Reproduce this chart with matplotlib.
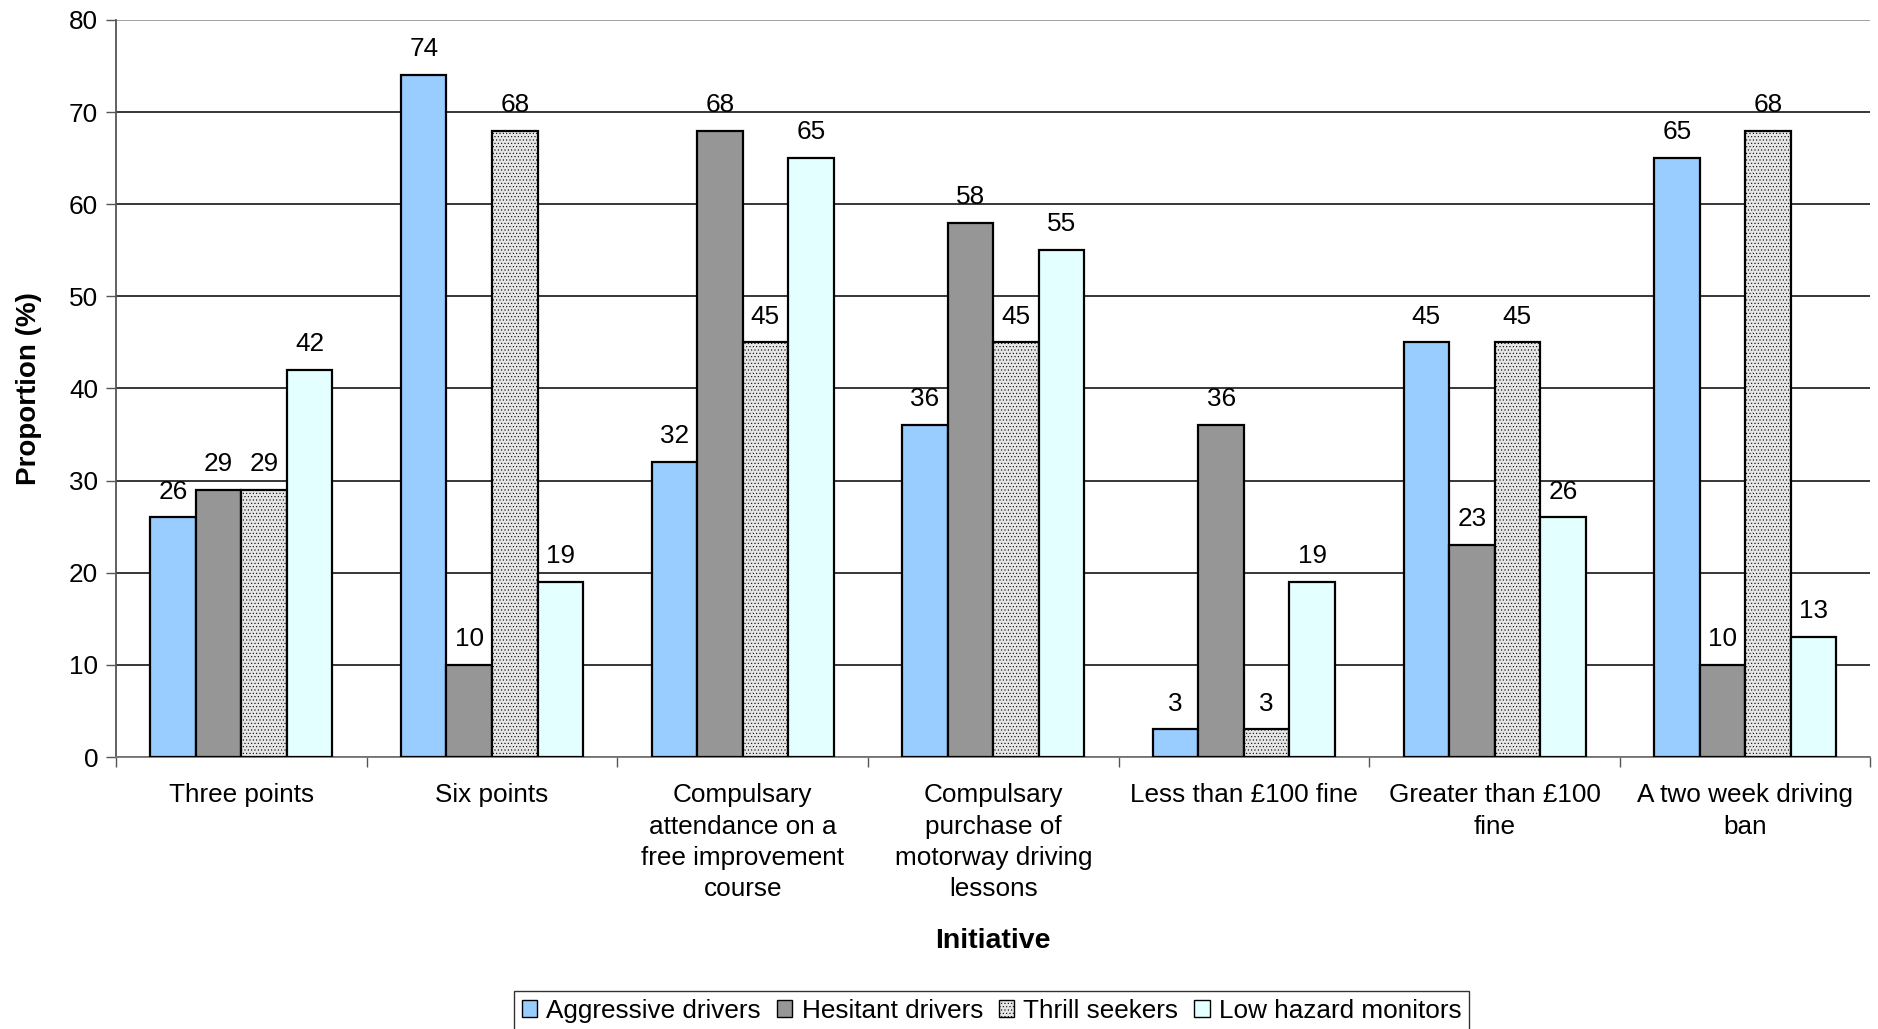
import matplotlib
matplotlib.use("Agg")
import matplotlib.pyplot as plt
import numpy as np

plt.rcParams['font.family'] = ['Liberation Sans', 'DejaVu Sans']
plt.rcParams['hatch.color'] = '#d6d6d6'
plt.rcParams['hatch.linewidth'] = 0.4

# Proportion of each driver group rating each initiative as effective (%)
initiatives = [
    "Three points",
    "Six points",
    "Compulsary\nattendance on a\nfree improvement\ncourse",
    "Compulsary\npurchase of\nmotorway driving\nlessons",
    "Less than £100 fine",
    "Greater than £100\nfine",
    "A two week driving\nban",
]
groups = ["Aggressive drivers", "Hesitant drivers", "Thrill seekers", "Low hazard monitors"]
aggressive = [26, 74, 32, 36, 3, 45, 65]
hesitant = [29, 10, 68, 58, 36, 23, 10]
thrill = [29, 68, 45, 45, 3, 45, 68]
low_hazard = [42, 19, 65, 55, 19, 26, 13]

series = [aggressive, hesitant, thrill, low_hazard]
colors = ['#99CCFF', '#969696', '#E6E6E6', '#E3FFFF']
hatches = [None, None, '.....', None]

FS = 18.8

fig = plt.figure(figsize=(18.78, 10.29), dpi=100)
ax = fig.add_axes([0.0618, 0.2643, 0.9342, 0.7163])

x = np.arange(len(initiatives))
width = 0.1816
offsets = (np.arange(4) - 1.5) * width

for vals, off, col, hat, name in zip(series, offsets, colors, hatches, groups):
    bars = ax.bar(x + off, vals, width, color=col, edgecolor='black',
                  linewidth=1.6, hatch=hat, label=name, zorder=3)
    for b, v in zip(bars, vals):
        ax.annotate(str(v), (b.get_x() + b.get_width() / 2, v),
                    xytext=(0, 10), textcoords='offset points',
                    ha='center', va='bottom', fontsize=FS, zorder=4)

ax.set_xlim(-0.5, len(initiatives) - 0.5)
ax.set_ylim(0, 80)
ax.set_yticks(np.arange(0, 81, 10))
ax.tick_params(axis='y', labelsize=FS, length=7, width=1, color='#555555', pad=6)

ax.set_xticks(x)
ax.set_xticklabels(initiatives, fontsize=FS, linespacing=1.38)
ax.tick_params(axis='x', which='major', length=0, pad=19)
ax.set_xticks(np.arange(-0.5, len(initiatives)), minor=True)
ax.tick_params(axis='x', which='minor', length=7, width=1, color='#555555')

ax.yaxis.grid(True, color='black', linewidth=1.1, zorder=0)
ax.set_axisbelow(True)
for side in ['top', 'right']:
    ax.spines[side].set_visible(False)
ax.spines['left'].set_color('#555555')
ax.spines['bottom'].set_color('#777777')
ax.spines['left'].set_linewidth(1.3)
ax.spines['bottom'].set_linewidth(1.3)
ax.get_ygridlines()[-1].set_color('#888888')

ax.set_xlabel('Initiative', fontsize=20.5, fontweight='bold')
ax.xaxis.set_label_coords(0.5, -0.232)
ax.set_ylabel('Proportion (%)', fontsize=20, fontweight='bold')
ax.yaxis.set_label_coords(-0.042, 0.5)

leg = fig.legend(loc='lower center', bbox_to_anchor=(0.528, -0.014), ncol=4,
                 fontsize=FS, frameon=True, fancybox=False, edgecolor='black',
                 handlelength=0.6, handleheight=0.6, handletextpad=0.35,
                 columnspacing=0.6, borderpad=0.3)
leg.get_frame().set_linewidth(1.0)
for h in leg.legend_handles:
    h.set_linewidth(1.0)

fig.savefig('out.png', dpi=100)
